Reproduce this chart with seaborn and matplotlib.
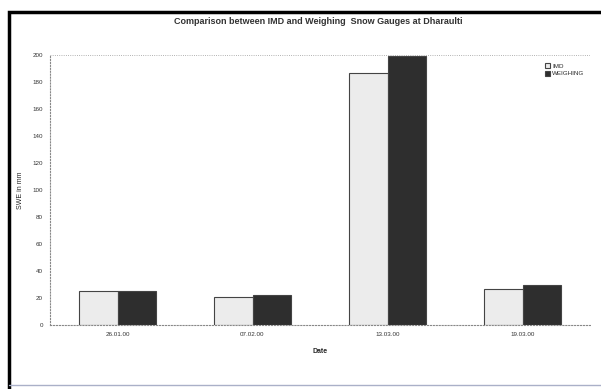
import pandas as pd
import matplotlib.pyplot as plt
import seaborn as sns
from matplotlib.patches import Rectangle

# Data
dates = ['26.01.00', '07.02.00', '13.03.00', '19.03.00']
imd = [25, 21, 187, 27]
weighing = [25, 22, 199, 30]

df = pd.DataFrame({
    'Date': dates * 2,
    'SWE': imd + weighing,
    'Gauge': ['IMD'] * len(dates) + ['WEIGHING'] * len(dates),
})

sns.set_style('white')
plt.rcParams['font.family'] = ['Liberation Sans', 'DejaVu Sans']

fig = plt.figure(figsize=(6.01, 3.89), dpi=100)
ax = fig.add_axes([50 / 601, 1 - 325 / 389, 540 / 601, 270 / 389])

sns.barplot(data=df, x='Date', y='SWE', hue='Gauge',
            palette={'IMD': '#ececec', 'WEIGHING': '#2e2e2e'},
            width=0.57, edgecolor='#444444', linewidth=0.8, ax=ax)

ax.set_ylim(0, 200)
ax.set_yticks(range(0, 201, 20))
ax.tick_params(axis='both', labelsize=4.5, colors='#333333', length=0, pad=5)
ax.set_xlabel('Date', fontsize=5, fontweight='bold', labelpad=8)
ax.set_ylabel('SWE in mm', fontsize=5, labelpad=6)
ax.axhline(200, color='#999999', linewidth=0.6, linestyle=':')
for s in ['top', 'right']:
    ax.spines[s].set_visible(False)
for s in ['left', 'bottom']:
    ax.spines[s].set_color('#888888')
    ax.spines[s].set_linestyle(':')
    ax.spines[s].set_linewidth(0.8)

leg = ax.legend(loc='upper right', fontsize=4.5, frameon=False,
                handlelength=0.8, handleheight=0.8, handletextpad=0.3,
                bbox_to_anchor=(1.0, 0.99), labelspacing=0.3)

fig.text(0.53, 1 - 21 / 389, 'Comparison between IMD and Weighing  Snow Gauges at Dharaulti',
         ha='center', va='center', fontsize=6.5, fontweight='bold', color='#333333')

# scanned page frame
fig.patches.append(Rectangle((9 / 601, -0.02), 1.0, 1 - 12 / 389 + 0.02,
                             transform=fig.transFigure, fill=False,
                             edgecolor='black', linewidth=2.5))
fig.lines.append(plt.Line2D([9 / 601, 1], [1 - 385 / 389] * 2,
                            transform=fig.transFigure, color='#aab0c8', linewidth=1))

fig.savefig('out.png', dpi=100)
